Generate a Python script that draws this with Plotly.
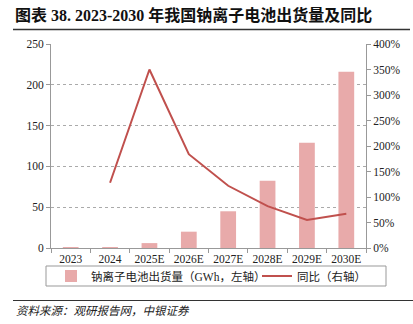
import plotly.graph_objects as go

years = ["2023", "2024", "2025E", "2026E", "2027E", "2028E", "2029E", "2030E"]
shipments = [0.5, 1.2, 6, 20, 45, 82.5, 129, 216]
yoy = [None, 128, 350, 184, 122, 82, 55, 67]

SERIF = "Liberation Serif, Times New Roman, Noto Sans CJK SC"
BAR_C = "#E8AAAA"
LINE_C = "#C0504D"

W, H = 413, 324
L, R, T, B = 51, 47, 44, 76
pw, ph = W - L - R, H - T - B

def px(x):
    return (x - L) / pw

def py(y):
    return (H - B - y) / ph

fig = go.Figure()
fig.add_trace(go.Bar(x=years, y=shipments, name="钠离子电池出货量（GWh，左轴）",
                     marker=dict(color=BAR_C, line=dict(width=0)), width=0.4, yaxis="y",
                     legend="legend"))
fig.add_trace(go.Scatter(x=years, y=yoy, name="同比（右轴）", mode="lines",
                         line=dict(color=LINE_C, width=2), yaxis="y2", legend="legend2"))

legend_common = dict(orientation="h", xanchor="left", yanchor="middle",
                     bgcolor="rgba(0,0,0,0)", borderwidth=0,
                     font=dict(family=SERIF, size=11.5, color="#222"), itemwidth=30)

fig.update_layout(
    width=W, height=H,
    margin=dict(l=L, r=R, t=T, b=B),
    paper_bgcolor="white", plot_bgcolor="white",
    font=dict(family=SERIF, size=11, color="#222"),
    showlegend=True,
    xaxis=dict(type="category", showline=True, linecolor="#999", linewidth=1,
               ticks="outside", tickson="boundaries", ticklen=4, tickcolor="#999",
               tickfont=dict(family=SERIF, size=11.5, color="#222"),
               showgrid=False, fixedrange=True),
    yaxis=dict(range=[0, 250], dtick=50, showline=True, linecolor="#999", linewidth=1,
               ticks="outside", ticklen=4, tickcolor="#999",
               showgrid=True, gridcolor="#AAAAAA", griddash="dot", gridwidth=1,
               zeroline=False, tickfont=dict(family=SERIF, size=11.5, color="#222")),
    yaxis2=dict(range=[0, 400], dtick=50, overlaying="y", side="right",
                showline=True, linecolor="#999", linewidth=1,
                ticks="outside", ticklen=4, tickcolor="#999", ticksuffix="%",
                showgrid=False, zeroline=False,
                tickfont=dict(family=SERIF, size=11.5, color="#222")),
    legend=dict(x=px(51), y=py(276), **legend_common),
    legend2=dict(x=px(257), y=py(276), **legend_common),
)

# Legend box, title rule and source rule
fig.add_shape(type="rect", xref="paper", yref="paper", x0=px(46), x1=px(386), y0=py(266), y1=py(286),
              line=dict(color="#999", width=1), fillcolor="rgba(0,0,0,0)")
fig.add_shape(type="line", xref="paper", yref="paper", x0=px(13), x1=px(410), y0=py(29.5), y1=py(29.5),
              line=dict(color="#333", width=1.5))
fig.add_shape(type="line", xref="paper", yref="paper", x0=px(13), x1=px(413), y0=py(300.5), y1=py(300.5),
              line=dict(color="#333", width=1.2))

fig.add_annotation(text="<b>图表 38. 2023-2030 年我国钠离子电池出货量及同比</b>", xref="paper", yref="paper",
                   x=px(13), y=py(15), xanchor="left", yanchor="middle", showarrow=False,
                   font=dict(family="Liberation Serif, Noto Sans CJK SC", size=16, color="#111"))
fig.add_annotation(text="<i>资料来源：观研报告网，中银证券</i>", xref="paper", yref="paper",
                   x=px(14), y=py(311), xanchor="left", yanchor="middle", showarrow=False,
                   font=dict(family=SERIF, size=11.5, color="#222"))

fig.write_html("out.html")
